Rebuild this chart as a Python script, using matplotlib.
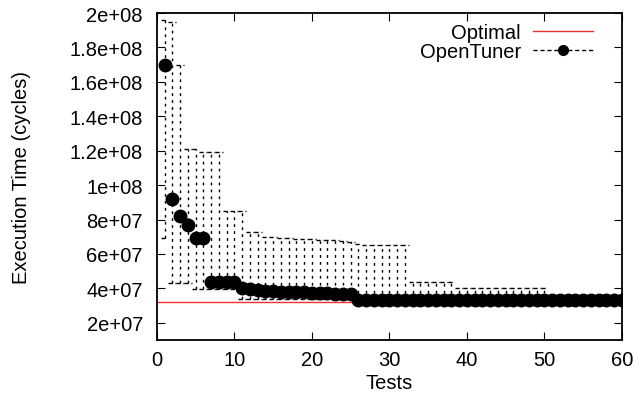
import matplotlib.pyplot as plt
import numpy as np
from matplotlib.lines import Line2D

plt.rcParams['font.family'] = ['Liberation Sans', 'DejaVu Sans']

# Dane
tests = np.arange(1, 61)
median = np.array([1.70e8, 9.2e7, 8.2e7, 7.7e7, 6.9e7, 6.9e7, 4.35e7, 4.35e7, 4.35e7, 4.35e7,
                   4.05e7, 3.98e7, 3.92e7, 3.86e7, 3.83e7, 3.81e7, 3.79e7, 3.78e7, 3.77e7, 3.76e7,
                   3.74e7, 3.72e7, 3.70e7, 3.68e7, 3.65e7] + [3.33e7] * 35)
high = np.array([1.96e8, 1.95e8, 1.70e8, 1.21e8, 1.21e8, 1.19e8, 1.19e8, 1.19e8, 8.5e7, 8.5e7,
                 8.5e7, 7.3e7, 7.3e7, 7.0e7, 7.0e7, 6.95e7, 6.95e7, 6.85e7, 6.85e7, 6.85e7,
                 6.8e7, 6.8e7, 6.8e7, 6.75e7, 6.7e7, 6.6e7]
                + [6.5e7] * 6 + [4.4e7] * 6 + [4.0e7] * 12 + [3.4e7] * 10)
low = np.array([6.9e7, 4.3e7, 4.3e7, 4.3e7] + [3.95e7] * 6 + [3.4e7] * 15 + [3.3e7] * 35)
optimal = 3.2e7

fig = plt.figure(figsize=(6.35, 4.06), dpi=100)
ax = fig.add_axes([0.247, 0.160, 0.7325, 0.8055])

dash = (0, (2, 3))
ax.plot([0, 60], [optimal, optimal], color='#ee3030', lw=1, zorder=1)
ax.vlines(tests, low, high, colors='k', lw=1, linestyles=dash, zorder=2)
ax.hlines(high, tests - 0.5, tests + 0.5, colors='k', lw=1, linestyles=(0, (3, 2)), zorder=2)
ax.hlines(low, tests - 0.5, tests + 0.5, colors='k', lw=1, linestyles=(0, (3, 2)), zorder=2)
ax.plot(tests, median, 'o', color='k', ms=9, zorder=3)

ax.set_xlim(0, 60)
ax.set_ylim(1e7, 2e8)
ax.set_xticks(np.arange(0, 61, 10))
yt = np.arange(2e7, 2.01e8, 2e7)
ax.set_yticks(yt)
ax.set_yticklabels(['%g' % v for v in yt])
ax.tick_params(direction='in', top=True, right=True, length=6, labelsize=14.5)
ax.tick_params(axis='y', pad=10)
ax.tick_params(axis='x', pad=7)
for s in ax.spines.values():
    s.set_linewidth(1.3)

ax.set_xlabel('Tests', fontsize=14.5, labelpad=3)
ax.set_ylabel('Execution Time (cycles)', fontsize=14.5, labelpad=28)

handles = [Line2D([], [], color='#ee3030', lw=1),
           Line2D([], [], color='k', lw=1, ls=(0, (3, 2)), marker='o', ms=7)]
ax.legend(handles, ['Optimal', 'OpenTuner'], loc='upper right', frameon=False,
          markerfirst=False, fontsize=14.5, handlelength=3.0, borderaxespad=0.1,
          labelspacing=0.0, handletextpad=0.6, bbox_to_anchor=(0.96, 1.0))

plt.savefig('out.png', dpi=100)
